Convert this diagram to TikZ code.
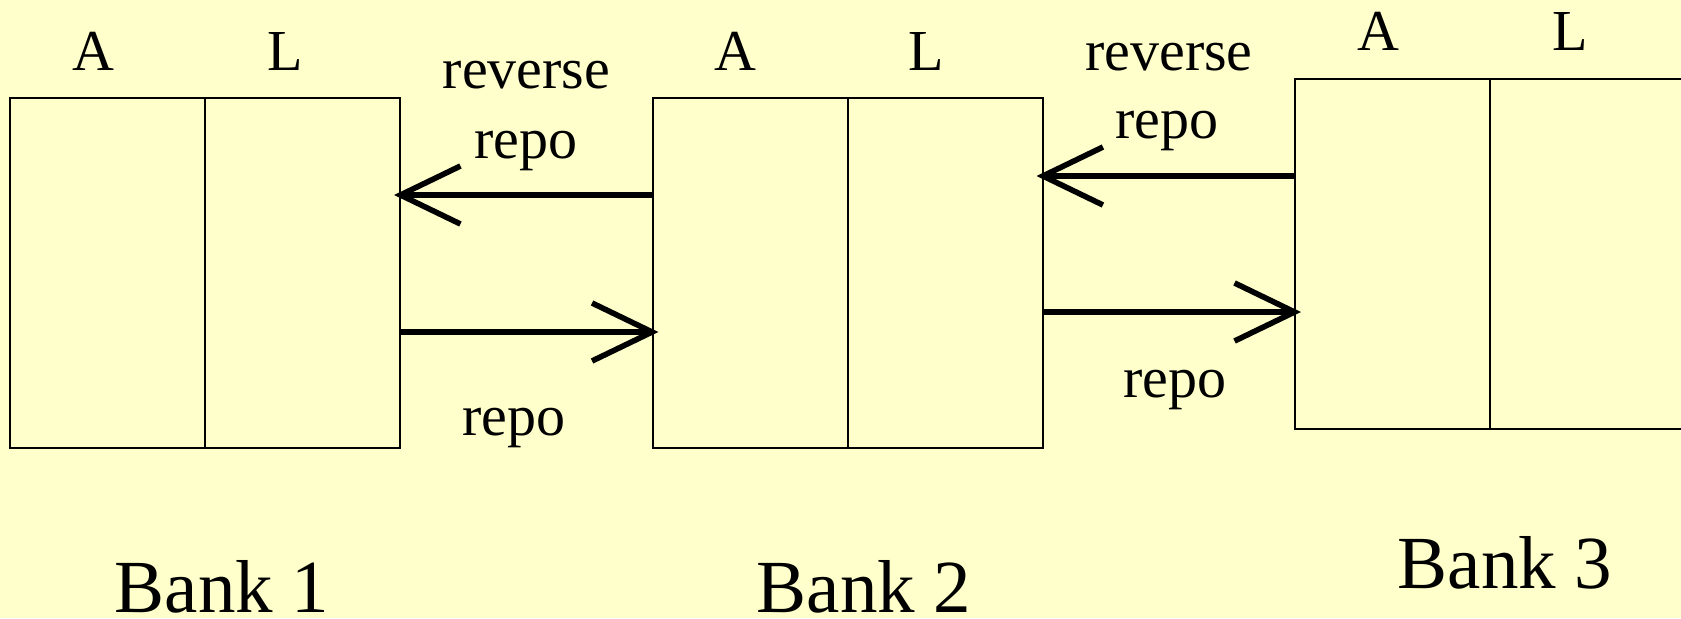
\documentclass[tikz,border=0pt]{standalone}
\usepackage{fontspec}
\setmainfont{Liberation Serif}
\usetikzlibrary{arrows.meta}
\definecolor{bgyellow}{HTML}{FFFFCC}
\tikzset{
  half/.style={draw=black, line width=1pt, minimum width=97.5pt, minimum height=175pt, inner sep=0pt, outer sep=0pt},
  lab/.style={font=\fontsize{29}{34}\selectfont, inner sep=0pt, anchor=base},
  banklab/.style={font=\fontsize{37.5}{44}\selectfont, inner sep=0pt, anchor=base},
  arr/.style={line width=2.8pt, shorten >=-3pt, -{Straight Barb[length=30pt, width=29pt, line width=2.8pt]}}
}
\begin{document}
\begin{tikzpicture}[x=0.5pt, y=-0.5pt]
\fill[bgyellow] (0,0) rectangle (1681,618);
\useasboundingbox (0,0) rectangle (1681,618);
\clip (0,0) rectangle (1681,618);
% Bank 1
\node[half] (b1a) at (107.5,273) {};
\node[half] (b1l) at (302.5,273) {};
% Bank 2
\node[half] (b2a) at (750,273) {};
\node[half] (b2l) at (945,273) {};
% Bank 3
\node[half] (b3a) at (1392.5,253.5) {};
\node[half] (b3l) at (1587.5,253.5) {};
% column labels
\node[lab] (t1a) at (93,70) {A};
\node[lab] (t1l) at (285,70) {L};
\node[lab] (t2a) at (735,70) {A};
\node[lab] (t2l) at (926,70) {L};
\node[lab] (t3a) at (1378,50) {A};
\node[lab] (t3l) at (1570,50) {L};
% arrows
\draw[arr] ([yshift=39pt]b2a.west) -- ([yshift=39pt]b1l.east);
\draw[arr] ([yshift=-29.5pt]b1l.east) -- ([yshift=-29.5pt]b2a.west);
\draw[arr] ([yshift=38.75pt]b3a.west) coordinate (s3) -- (b2l.east |- s3);
\draw[arr] ([yshift=-19.5pt]b2l.east) coordinate (s2) -- (b3a.west |- s2);
% arrow labels
\node[lab] (rv1) at (526.5,88) {reverse};
\node[lab] (rr1) at (526,158) {repo};
\node[lab] (r1) at (514,435) {repo};
\node[lab] (rv2) at (1169,70) {reverse};
\node[lab] (rr2) at (1167,138) {repo};
\node[lab] (r2) at (1175,397) {repo};
% bank labels
\node[banklab] (bk1) at (222,612) {Bank 1};
\node[banklab] (bk2) at (864,612) {Bank 2};
\node[banklab] (bk3) at (1505,588) {Bank 3};
\end{tikzpicture}
\end{document}
